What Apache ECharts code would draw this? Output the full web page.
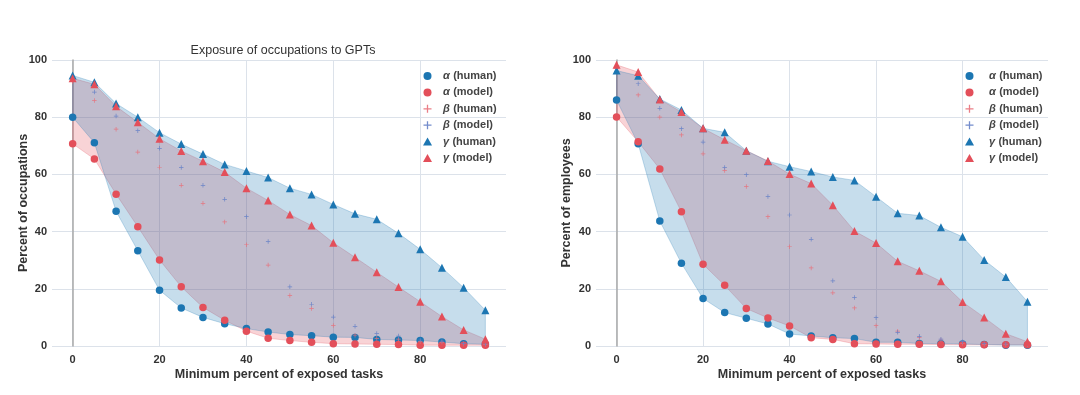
<!DOCTYPE html>
<html><head><meta charset="utf-8">
<script src="https://cdn.jsdelivr.net/npm/echarts@6/dist/echarts.min.js"></script>
<style>html,body{margin:0;padding:0;background:#fff}#c{width:1080px;height:395px}</style>
</head><body><div id="c"></div>
<script>
const thresholds = [0,5,10,15,20,25,30,35,40,45,50,55,60,65,70,75,80,85,90,95];
const xTicks = [0,20,40,60,80];
const yTicks = [0,20,40,60,80,100];
const seriesNames = ['α (human)','α (model)','β (human)','β (model)','γ (human)','γ (model)'];

// Left: percent of occupations
const occAlphaHuman = [80.0,71.1,47.1,33.3,19.5,13.3,10.0,7.8,6.1,4.9,4.0,3.6,3.1,3.0,2.3,2.1,1.9,1.4,0.8,0.6];
const occAlphaModel = [70.7,65.4,53.1,41.7,30.1,20.7,13.5,9.0,5.2,2.7,1.9,1.3,0.8,0.7,0.6,0.5,0.3,0.3,0.3,0.3];
const occBetaHuman  = [92.5,85.8,75.8,67.8,62.5,56.2,49.9,43.4,35.4,28.3,17.7,13.1,7.2,3.8,2.7,2.4,1.5,1.3,0.7,0.5];
const occBetaModel  = [93.5,88.8,80.4,75.3,69.1,62.4,56.2,51.3,45.2,36.5,20.7,14.6,10.1,6.9,4.4,3.5,2.1,1.7,0.9,0.7];
const occGammaHuman = [94.6,92.2,84.8,80.0,74.6,70.6,67.1,63.5,61.2,58.9,55.2,53.0,49.5,46.2,44.3,39.4,33.8,27.4,20.4,12.5];
const occGammaModel = [93.6,91.5,83.8,78.2,72.5,68.2,64.6,60.8,55.2,50.9,46.0,42.1,36.1,31.0,25.8,20.6,15.5,10.3,5.6,2.4];

// Right: percent of employees
const empAlphaHuman = [86.0,70.7,43.7,28.9,16.6,11.7,9.7,7.7,4.2,3.5,2.9,2.6,1.3,1.3,0.9,0.8,0.7,0.5,0.3,0.3];
const empAlphaModel = [80.1,71.4,61.9,46.9,28.6,21.2,13.1,9.8,7.0,2.9,2.3,0.8,0.7,0.6,0.6,0.5,0.4,0.4,0.4,0.4];
const empBetaHuman  = [97.0,87.8,80.0,73.8,67.2,61.4,55.8,45.2,34.7,27.3,18.6,13.3,7.1,5.2,2.9,2.1,0.9,0.6,0.5,0.4];
const empBetaModel  = [96.0,91.7,83.1,76.0,71.3,62.4,59.9,52.3,45.8,37.3,22.8,17.0,9.9,4.8,3.4,2.4,1.5,0.9,0.7,0.6];
const empGammaHuman = [96.3,94.5,86.4,82.5,76.1,74.7,68.3,64.6,62.7,61.0,59.1,57.9,52.2,46.4,45.6,41.5,38.2,30.1,24.1,15.5];
const empGammaModel = [98.3,95.8,86.2,81.8,76.1,72.1,68.3,64.7,60.1,56.8,49.2,40.2,36.0,29.6,26.3,22.6,15.4,10.0,4.3,1.5];

const BLUE = '#1c76b2', RED = '#e34f5a';
const PLUS = 'path://M4,0h1.6v4.2h4.2v1.6h-4.2v4.2h-1.6v-4.2h-4.2v-1.6h4.2z';
const FONT = 'Liberation Sans, Arial, sans-serif';
const icons = ['circle','circle',PLUS,PLUS,'triangle','triangle'];
const colors = [BLUE, RED, '#e8707a', '#6480c6', BLUE, RED];
const sizes = [7.5,7.5,4.5,4.5,8,8];

function band(idx, lower, upper, color) {
  return {
    type: 'custom', xAxisIndex: idx, yAxisIndex: idx, silent: true, z: 1,
    data: [[0,0]],
    renderItem: function (params, api) {
      const pts = [];
      for (let i = 0; i < thresholds.length; i++) pts.push(api.coord([thresholds[i], upper[i]]));
      for (let i = thresholds.length - 1; i >= 0; i--) pts.push(api.coord([thresholds[i], lower[i]]));
      return { type: 'polygon', shape: { points: pts },
        style: { fill: color, opacity: 0.25, stroke: color, lineWidth: 1 } };
    }
  };
}

function scatters(idx, arrs) {
  return arrs.map((a, k) => ({
    type: 'scatter', name: seriesNames[k], xAxisIndex: idx, yAxisIndex: idx, z: 3,
    symbol: icons[k], symbolSize: sizes[k],
    itemStyle: { color: colors[k], opacity: k === 2 || k === 3 ? 0.9 : 1 },
    data: thresholds.map((x, i) => [x, a[i]])
  }));
}

function xAxis(idx) {
  return {
    type: 'value', gridIndex: idx, min: -4.75, max: 99.75,
    name: 'Minimum percent of exposed tasks', nameLocation: 'middle', nameGap: 22, nameMoveOverlap: false,
    nameTextStyle: { fontFamily: FONT, fontWeight: 'bold', fontSize: 12.5, color: '#333' },
    axisLine: { show: false }, axisTick: { show: false, customValues: xTicks },
    axisLabel: { customValues: xTicks, fontFamily: FONT, fontWeight: 'bold', fontSize: 11, color: '#333', margin: 8 },
    splitLine: { show: true, lineStyle: { color: '#dce2ea', width: 1 } }
  };
}
function yAxis(idx, name, gap) {
  return {
    type: 'value', gridIndex: idx, min: 0, max: 100, interval: 20,
    name: name, nameLocation: 'middle', nameGap: gap, nameMoveOverlap: false,
    nameTextStyle: { fontFamily: FONT, fontWeight: 'bold', fontSize: 12.5, color: '#333' },
    axisLine: { show: true, lineStyle: { color: '#a8a8a8', width: 1.5 } }, axisTick: { show: false },
    axisLabel: { fontFamily: FONT, fontWeight: 'bold', fontSize: 11, color: '#333', margin: 5 },
    splitLine: { show: true, lineStyle: { color: '#dce2ea', width: 1 } }
  };
}
function legend(left, pad) {
  return {
    orient: 'vertical', left: left, top: 65, itemWidth: 9, itemHeight: 8, itemGap: 4.4,
    data: seriesNames.map((n, k) => ({ name: n, icon: icons[k], itemStyle: { color: colors[k] } })),
    formatter: n => { const p = n.split(' '); return '{g|' + p[0] + '} {t|' + p[1] + '}'; },
    textStyle: { padding: [0,0,0,pad], rich: {
      g: { fontFamily: FONT, fontWeight: 'bold', fontStyle: 'italic', fontSize: 11, color: '#444' },
      t: { fontFamily: FONT, fontWeight: 'bold', fontSize: 11, color: '#444' } } }
  };
}

const option = {
  backgroundColor: '#fff',
  animation: false,
  title: { text: 'Exposure of occupations to GPTs', left: 278, top: 39, textAlign: 'center',
    textStyle: { fontFamily: FONT, fontWeight: 'normal', fontSize: 12.5, color: '#333' } },
  legend: [legend(418, 6), legend(960, 10)],
  grid: [
    { left: 52, top: 60, width: 454, height: 286 },
    { left: 596, top: 60, width: 452, height: 286 }
  ],
  xAxis: [xAxis(0), xAxis(1)],
  yAxis: [yAxis(0, 'Percent of occupations', 21.5), yAxis(1, 'Percent of employees', 22.5)],
  series: [
    band(0, occAlphaModel, occGammaModel, RED),
    band(0, occAlphaHuman, occGammaHuman, BLUE),
    band(1, empAlphaModel, empGammaModel, RED),
    band(1, empAlphaHuman, empGammaHuman, BLUE),
    ...scatters(0, [occAlphaHuman, occAlphaModel, occBetaHuman, occBetaModel, occGammaHuman, occGammaModel]),
    ...scatters(1, [empAlphaHuman, empAlphaModel, empBetaHuman, empBetaModel, empGammaHuman, empGammaModel])
  ]
};
const chart = echarts.init(document.getElementById('c'));
chart.setOption(option);
</script>
</body></html>
